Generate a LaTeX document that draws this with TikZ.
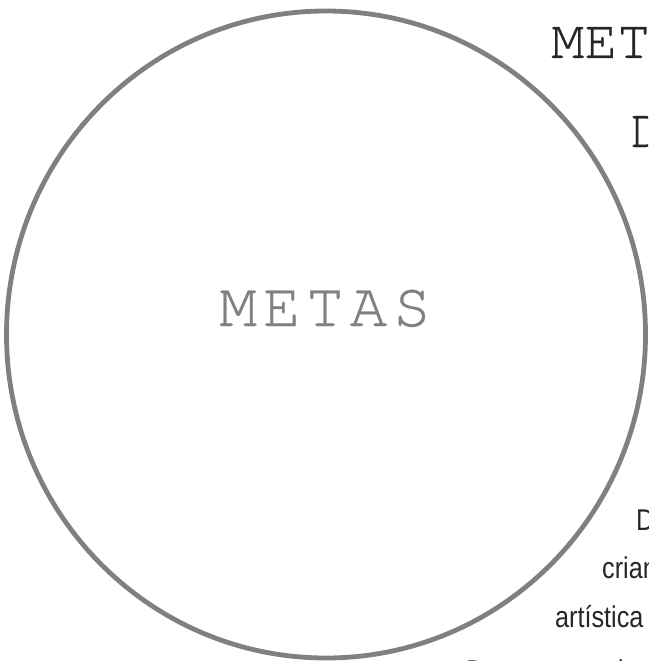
\documentclass[tikz,border=0pt]{standalone}
\usepackage{fontspec}
\usepackage{xcolor}
\usetikzlibrary{positioning}
\setsansfont{Liberation Sans}
\newfontfamily\metasmono[LetterSpace=9,FakeBold=0.5]{texgyrecursor-regular.otf}
\newfontfamily\titlemono[FakeBold=0.5]{texgyrecursor-regular.otf}
\definecolor{metasGray}{RGB}{128,128,128}
\definecolor{metasInk}{RGB}{38,38,38}

\begin{document}
\begin{tikzpicture}[x=1pt,y=-1pt,
    bodytext/.style={text=metasInk, inner sep=0pt, anchor=base west, xscale=0.84, transform shape, font=\fontsize{30}{30}\sffamily},
    titletext/.style={text=metasInk, inner sep=0pt, anchor=base west, font=\fontsize{55}{55}\titlemono}]

    % frame
    \useasboundingbox (0,0) rectangle (648,661);
    \clip (0,0) rectangle (648,661);

    % big circle
    \draw[metasGray, line width=4.8pt] (326,334.5) ellipse [x radius=319.5pt, y radius=323.5pt];

    % centre label
    \node[text=metasGray, inner sep=0pt, anchor=base] (metas) at (325,326)
        {\fontsize{63}{63}\metasmono METAS};

    % title, cut by the right edge
    \node[titletext] (titleA) at (551,58) {MET};
    \node[titletext] (titleB) at (630,147) {D};

    % text block, cut by the right and bottom edges
    \node[bodytext] (lineA) at (636,530) {D};
    \node[bodytext] (lineB) at (602,578) {crian};
    \node[bodytext] (lineC) at (555,627) {artística};
    \node[bodytext] (lineD) at (466,681) {D};
    \node[bodytext] (lineE) at (618,681) {i};

\end{tikzpicture}
\end{document}
